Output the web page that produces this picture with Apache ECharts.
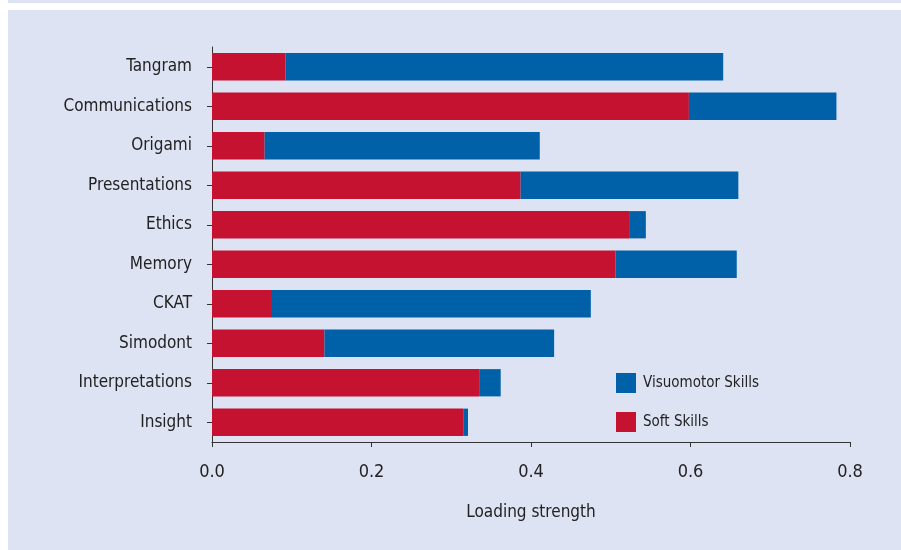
<!DOCTYPE html>
<html>
<head>
<meta charset="utf-8">
<script src="https://cdn.jsdelivr.net/npm/echarts@6/dist/echarts.min.js"></script>
<style>
  html, body { margin: 0; padding: 0; background: #ffffff; }
  #chart { width: 901px; height: 550px; }
</style>
</head>
<body>
<div id="chart"></div>
<script>
// Categories (top to bottom as shown)
const categories = ['Tangram', 'Communications', 'Origami', 'Presentations', 'Ethics', 'Memory', 'CKAT', 'Simodont', 'Interpretations', 'Insight'];
// Soft Skills loading (red segment)
const softSkills = [0.092, 0.598, 0.066, 0.387, 0.523, 0.506, 0.074, 0.141, 0.335, 0.315];
// Visuomotor Skills loading (blue segment, stacked after soft)
const visuomotorSkills = [0.549, 0.185, 0.345, 0.273, 0.021, 0.152, 0.401, 0.288, 0.027, 0.006];
// X tick labels
const xTicks = ['0.0', '0.2', '0.4', '0.6', '0.8'];

const FONT = '"DejaVu Sans Condensed", "Liberation Sans Narrow", "Open Sans", sans-serif';
const TEXT = '#222222';

const chart = echarts.init(document.getElementById('chart'), null, { renderer: 'canvas' });
chart.setOption({
  backgroundColor: '#ffffff',
  animation: false,
  graphic: [
    { type: 'rect', z: -10, silent: true, shape: { x: 8, y: 0, width: 893, height: 550 }, style: { fill: '#dee3f3' } },
    { type: 'rect', z: -9, silent: true, shape: { x: 8, y: 3, width: 893, height: 7 }, style: { fill: '#ffffff' } }
  ],
  textStyle: { fontFamily: FONT },
  grid: { left: 212, right: 51, top: 47, bottom: 108, containLabel: false },
  legend: {
    data: ['Visuomotor Skills', 'Soft Skills'],
    orient: 'vertical',
    left: 616, top: 373,
    itemWidth: 20, itemHeight: 20, itemGap: 19,
    icon: 'rect',
    textStyle: { fontFamily: FONT, fontSize: 15, color: TEXT, padding: [0, 0, 0, 2] },
    padding: 0
  },
  xAxis: {
    type: 'value', min: 0, max: 0.8, interval: 0.2,
    name: 'Loading strength', nameLocation: 'middle', nameGap: 62,
    nameTextStyle: { fontFamily: FONT, fontSize: 17, color: TEXT },
    axisLine: { show: true, lineStyle: { color: '#333', width: 1 } },
    axisTick: { show: true, length: 5, lineStyle: { color: '#333' } },
    axisLabel: { fontFamily: FONT, fontSize: 18, color: TEXT, margin: 21,
      formatter: function (v) { return xTicks[Math.round(v / 0.2)]; } },
    splitLine: { show: false }
  },
  yAxis: {
    type: 'category', data: categories, inverse: true,
    axisLine: { show: true, lineStyle: { color: '#333', width: 1 } },
    axisTick: { show: true, length: 5, alignWithLabel: true, lineStyle: { color: '#333' } },
    axisLabel: { fontFamily: FONT, fontSize: 17, color: TEXT, margin: 20 }
  },
  series: [
    { name: 'Soft Skills', type: 'bar', stack: 'total', data: softSkills, barCategoryGap: '31%',
      itemStyle: { color: '#c41230' } },
    { name: 'Visuomotor Skills', type: 'bar', stack: 'total', data: visuomotorSkills, barCategoryGap: '31%',
      itemStyle: { color: '#0060a8' } }
  ]
});
</script>
</body>
</html>
